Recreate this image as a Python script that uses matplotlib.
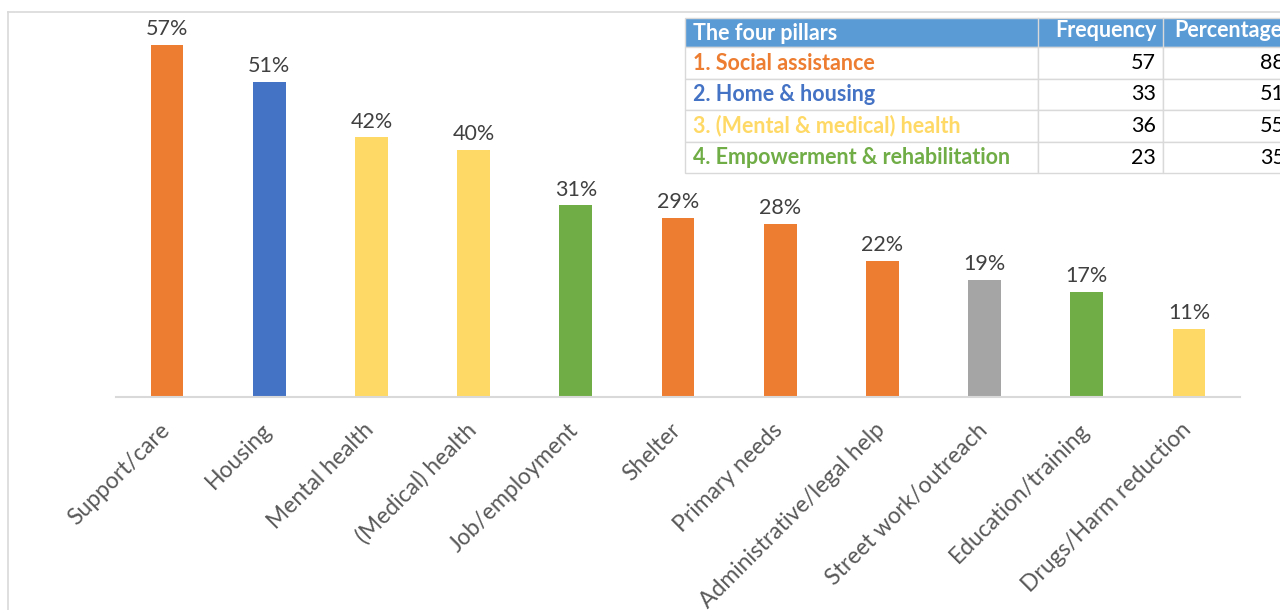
import matplotlib
matplotlib.use('Agg')
import matplotlib.pyplot as plt
import matplotlib.transforms as mtransforms
from matplotlib.patches import Rectangle

plt.rcParams['font.family'] = ['Lato', 'DejaVu Sans']

categories = ['Support/care', 'Housing', 'Mental health', '(Medical) health',
              'Job/employment', 'Shelter', 'Primary needs', 'Administrative/legal help',
              'Street work/outreach', 'Education/training', 'Drugs/Harm reduction']
values = [57, 51, 42, 40, 31, 29, 28, 22, 19, 17, 11]
pillar_of_bar = [1, 2, 3, 3, 4, 1, 1, 1, 0, 4, 3]

pillars = ['1. Social assistance', '2. Home & housing',
           '3. (Mental & medical) health', '4. Empowerment & rehabilitation']
frequency = [57, 33, 36, 23]
percentage = [88, 51, 55, 35]

pillar_colors = {0: '#A5A5A5', 1: '#ED7D31', 2: '#4472C4', 3: '#FFD966', 4: '#70AD47'}

W, H = 1280, 610
fig = plt.figure(figsize=(W / 100, H / 100), dpi=100, facecolor='white')

def fx(x):
    return x / W

def fy(y):
    return 1 - y / H

# outer chart frame (only left and top edges are visible)
fig.add_artist(plt.Line2D([fx(7.5), fx(7.5)], [fy(11.5), 0], transform=fig.transFigure,
                          color='#D9D9D9', lw=1.2))
fig.add_artist(plt.Line2D([fx(7.5), 1], [fy(11.5), fy(11.5)], transform=fig.transFigure,
                          color='#D9D9D9', lw=1.2))

ax = fig.add_axes([fx(116), fy(397), fx(1240) - fx(116), fy(26) - fy(397)])
x = range(len(categories))
colors = [pillar_colors[p] for p in pillar_of_bar]
bars = ax.bar(x, values, width=0.32, color=colors)
ax.set_xlim(-0.5, len(categories) - 0.5)
ax.set_ylim(0, 60)
for b, v in zip(bars, values):
    ax.annotate(f'{v}%', (b.get_x() + b.get_width() / 2, v), xytext=(0, 4),
                textcoords='offset points', ha='center', va='bottom',
                fontsize=15.5, color='#404040')

for s in ['top', 'right', 'left']:
    ax.spines[s].set_visible(False)
ax.spines['bottom'].set_color('#D9D9D9')
ax.spines['bottom'].set_linewidth(1.5)
ax.set_yticks([])
ax.set_xticks(list(x))
ax.set_xticklabels(categories, rotation=45, ha='right', va='top',
                   rotation_mode='anchor', fontsize=16.5, color='#595959')
ax.tick_params(axis='x', length=0, pad=16)
shift = mtransforms.ScaledTranslation(-8 / 100, 0, fig.dpi_scale_trans)
for lab in ax.get_xticklabels():
    lab.set_transform(lab.get_transform() + shift)

# the four pillars table
col_x = [685, 1038, 1163, 1400]
row_y = [18, 47, 79, 110, 142, 173]
fig.add_artist(Rectangle((fx(col_x[0]), fy(row_y[1])), fx(col_x[3]) - fx(col_x[0]),
                         fy(row_y[0]) - fy(row_y[1]), transform=fig.transFigure,
                         fc='#5B9BD5', ec='#D9D9D9', lw=1))
for i in range(1, 5):
    for c in range(3):
        fig.add_artist(Rectangle((fx(col_x[c]), fy(row_y[i + 1])), fx(col_x[c + 1]) - fx(col_x[c]),
                                 fy(row_y[i]) - fy(row_y[i + 1]), transform=fig.transFigure,
                                 fc='white', ec='#D9D9D9', lw=1))
for c in (1, 2):
    fig.add_artist(plt.Line2D([fx(col_x[c])] * 2, [fy(row_y[0]), fy(row_y[1])],
                              transform=fig.transFigure, color='#D9D9D9', lw=1))

hy = fy((row_y[0] + row_y[1]) / 2) - 0.002
fig.text(fx(693), hy, 'The four pillars', color='white', fontweight='bold',
         fontsize=15.5, va='center', ha='left')
fig.text(fx(1157), hy + 0.006, 'Frequency', color='white', fontweight='bold',
         fontsize=15.5, va='center', ha='right')
fig.text(fx(1174), hy + 0.006, 'Percentage', color='white', fontweight='bold',
         fontsize=15.5, va='center', ha='left')

for i, (name, f, p) in enumerate(zip(pillars, frequency, percentage)):
    cy = fy((row_y[i + 1] + row_y[i + 2]) / 2)
    fig.text(fx(693), cy, name, color=pillar_colors[i + 1], fontweight='bold',
             fontsize=15.5, va='center', ha='left')
    fig.text(fx(1156), cy, str(f), color='black', fontsize=15.5, va='center', ha='right')
    fig.text(fx(1260), cy, str(p), color='black', fontsize=15.5, va='center', ha='left')

fig.savefig('out.png', dpi=100, facecolor='white')
